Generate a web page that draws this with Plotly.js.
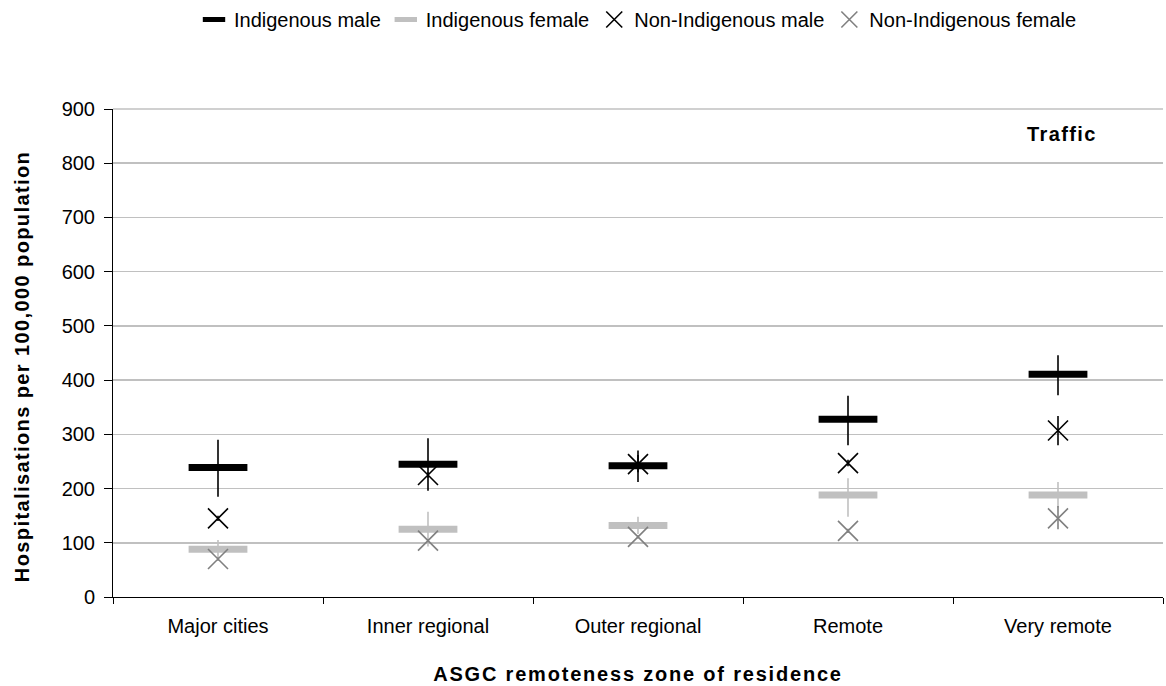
<!DOCTYPE html>
<html>
<head>
<meta charset="utf-8">
<script src="https://cdn.plot.ly/plotly-3.0.1.min.js"></script>
<style>
  body { margin: 0; background: #ffffff; }
  #chart { width: 1166px; height: 686px; }
  .xtitle { letter-spacing: 1.8px; }
  .annotation-text { letter-spacing: 1.4px; }
</style>
</head>
<body>
<div id="chart"></div>
<script>
// Remoteness zones (x categories)
var zones = ['Major cities', 'Inner regional', 'Outer regional', 'Remote', 'Very remote']

// Rates per 100,000 with confidence limits
var indigMale      = [239, 245, 242, 328, 411]
var indigMaleHi    = [290, 293, 270, 371, 446]
var indigMaleLo    = [185, 196, 212, 280, 372]

var indigFemale    = [88, 125, 132, 188, 188]
var indigFemaleHi  = [105, 157, 148, 219, 212]
var indigFemaleLo  = [72, 93, 116, 148, 165]

var nonIndigMale   = [145, 225, 245, 247, 307]
var nonIndigMaleHi = [150, 230, 262, 253, 334]
var nonIndigMaleLo = [140, 220, 230, 241, 280]

var nonIndigFemale   = [70, 104, 111, 122, 145]
var nonIndigFemaleHi = [73, 107, 114, 126, 168]
var nonIndigFemaleLo = [67, 101, 108, 118, 125]

function up(v, hi) { return v.map(function (d, i) { return hi[i] - d }) }
function down(v, lo) { return v.map(function (d, i) { return d - lo[i] }) }

function errBar(v, hi, lo, col) {
  return {
    type: 'data', symmetric: false,
    array: up(v, hi), arrayminus: down(v, lo),
    color: col, thickness: 1.6, width: 0
  }
}

var traces = [
  {
    x: zones, y: indigMale, name: 'Indigenous male', type: 'scatter', mode: 'markers',
    error_y: errBar(indigMale, indigMaleHi, indigMaleLo, '#000000'),
    marker: {symbol: 'line-ew-open', size: 42, color: '#000000', line: {color: '#000000', width: 7}}
  },
  {
    x: zones, y: indigFemale, name: 'Indigenous female', type: 'scatter', mode: 'markers',
    error_y: errBar(indigFemale, indigFemaleHi, indigFemaleLo, '#c0c0c0'),
    marker: {symbol: 'line-ew-open', size: 42, color: '#c0c0c0', line: {color: '#c0c0c0', width: 7}}
  },
  {
    x: zones, y: nonIndigMale, name: 'Non-Indigenous male', type: 'scatter', mode: 'markers',
    error_y: errBar(nonIndigMale, nonIndigMaleHi, nonIndigMaleLo, '#000000'),
    marker: {symbol: 'x-thin-open', size: 20, color: '#000000', line: {color: '#000000', width: 1.6}}
  },
  {
    x: zones, y: nonIndigFemale, name: 'Non-Indigenous female', type: 'scatter', mode: 'markers',
    error_y: errBar(nonIndigFemale, nonIndigFemaleHi, nonIndigFemaleLo, '#808080'),
    marker: {symbol: 'x-thin-open', size: 20, color: '#808080', line: {color: '#808080', width: 1.6}}
  }
]

var layout = {
  width: 1166,
  height: 686,
  margin: {l: 113, r: 3, t: 109, b: 89},
  paper_bgcolor: '#ffffff',
  plot_bgcolor: '#ffffff',
  font: {family: 'Liberation Sans, Arial, sans-serif', size: 20, color: '#000000'},
  showlegend: true,
  legend: {
    orientation: 'h', x: 0.5, xanchor: 'center', xref: 'paper',
    y: 1, yref: 'container', yanchor: 'top',
    font: {size: 20}, itemwidth: 30, tracegroupgap: 0
  },
  xaxis: {
    type: 'category',
    range: [-0.5, 4.5],
    showgrid: false,
    showline: true, linecolor: '#000000', linewidth: 1,
    ticks: 'outside', ticklen: 6, tickcolor: '#000000',
    tickson: 'boundaries',
    ticklabelstandoff: 11,
    tickfont: {size: 20},
    title: {text: 'ASGC remoteness zone of residence', font: {size: 20, weight: 'bold'}, standoff: 30}
  },
  yaxis: {
    range: [0, 900],
    dtick: 100,
    showgrid: true, gridcolor: '#c0c0c0', gridwidth: 1.5,
    zeroline: false,
    showline: true, linecolor: '#000000', linewidth: 1,
    ticks: 'outside', ticklen: 8, tickcolor: '#000000',
    ticklabelstandoff: 5,
    tickfont: {size: 20}
  },
  shapes: [
    // top gridline at 900, which Plotly leaves out at the plot edge
    {type: 'line', xref: 'paper', yref: 'paper', x0: 0, x1: 1, y0: 1, y1: 1,
     line: {color: '#c0c0c0', width: 1.5}, layer: 'below'}
  ],
  annotations: [
    {text: '<b>Traffic</b>', xref: 'paper', yref: 'paper', x: 0.904, y: 0.949,
     xanchor: 'center', yanchor: 'middle', showarrow: false, font: {size: 20}},
    // y-axis title, placed as in the original (slightly below the plot centre)
    {text: '<b>Hospitalisations per 100,000 population</b>', xref: 'paper', yref: 'paper',
     x: -0.0867, y: 0.473, xanchor: 'center', yanchor: 'middle', textangle: -90,
     showarrow: false, font: {size: 20}}
  ]
}

Plotly.newPlot('chart', traces, layout, {staticPlot: true})
</script>
</body>
</html>
